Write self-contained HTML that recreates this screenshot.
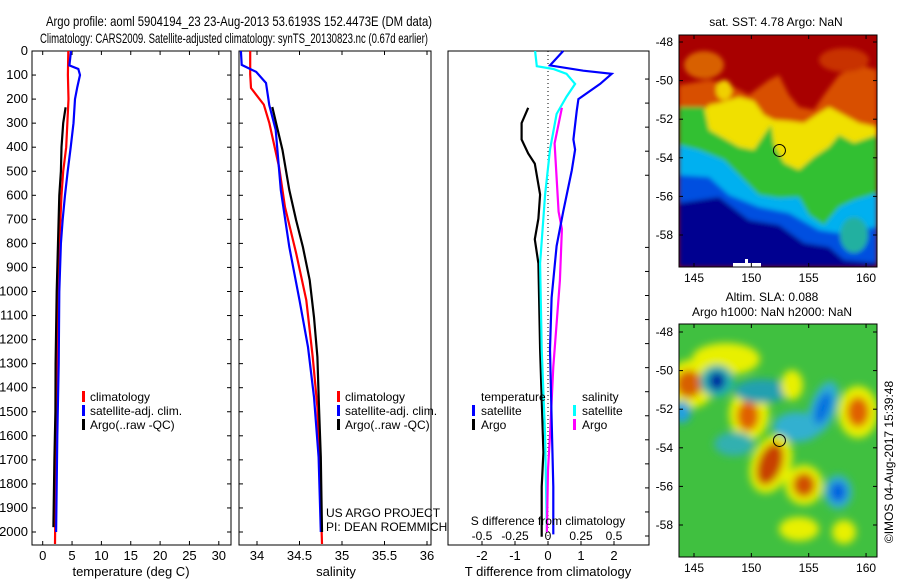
<!DOCTYPE html>
<html><head><meta charset="utf-8"><style>
body{margin:0;background:#fff}
svg{display:block;font-family:"Liberation Sans",sans-serif}
</style></head><body>
<svg id="fig" width="900" height="580" viewBox="0 0 900 580" xmlns="http://www.w3.org/2000/svg">
<defs>
<filter id="bl" x="-10%" y="-10%" width="120%" height="120%"><feGaussianBlur stdDeviation="2.5"/></filter>
<filter id="bl2" x="-20%" y="-20%" width="140%" height="140%"><feGaussianBlur stdDeviation="4"/></filter>
<clipPath id="c1"><rect x="679" y="35" width="198" height="232"/></clipPath>
<clipPath id="c2"><rect x="679" y="324" width="198" height="233"/></clipPath>
</defs>
<text x="46" y="26" font-size="14" textLength="386" lengthAdjust="spacingAndGlyphs">Argo profile: aoml 5904194_23 23-Aug-2013 53.6193S 152.4473E (DM data)</text>
<text x="40" y="43" font-size="14" textLength="388" lengthAdjust="spacingAndGlyphs">Climatology: CARS2009. Satellite-adjusted climatology: synTS_20130823.nc (0.67d earlier)</text>

<!-- top map -->
<g clip-path="url(#c1)">
<rect x="679" y="35" width="198" height="232" fill="#a80000"/>
<g transform="translate(679,35)" filter="url(#bl)">
<polygon fill="#d85000" points="0,50 30,45 50,50 70,60 90,45 100,40 110,60 120,72 135,75 145,60 160,40 180,30 198,35 198,232 0,232"/>
<ellipse cx="25" cy="30" rx="20" ry="14" fill="#d86000"/>
<ellipse cx="165" cy="25" rx="25" ry="12" fill="#c83000"/>
<polygon fill="#f0e000" points="0,78 20,80 30,70 40,68 60,62 75,66 85,80 95,85 110,86 125,88 140,78 150,72 165,80 180,88 198,92 198,232 0,232"/>
<ellipse cx="45" cy="55" rx="8" ry="10" fill="#f0d000"/>
<polygon fill="#30c030" points="0,72 25,72 30,95 60,112 75,115 85,100 92,90 95,110 105,128 120,135 135,122 150,112 160,100 175,108 198,100 198,232 0,232"/>
<polygon fill="#00b0f0" points="0,110 20,115 45,125 60,140 80,160 100,163 120,162 130,180 145,190 160,172 175,165 198,158 198,232 0,232"/>
<polygon fill="#0050e0" points="0,140 30,142 50,160 80,172 110,178 140,195 160,198 198,192 198,232 0,232"/>
<ellipse cx="175" cy="200" rx="14" ry="18" fill="#20b0a0"/>
<polygon fill="#000090" points="0,168 40,162 70,185 100,190 125,208 150,212 165,225 198,228 198,232 0,232"/>
</g>
<rect x="733" y="263" width="28" height="4" fill="#fff"/>
<rect x="745" y="259" width="3" height="5" fill="#fff"/>
</g>
<rect x="679" y="35" width="198" height="232" fill="none" stroke="#000"/>
<circle id="mk1" r="6" fill="none" stroke="#000"/>
<text x="776" y="26" font-size="12" text-anchor="middle">sat. SST: 4.78 Argo: NaN</text>

<!-- bottom map -->
<g clip-path="url(#c2)">
<rect x="679" y="324" width="198" height="233" fill="#40c040"/>
<g transform="translate(679,324)" filter="url(#bl2)">
<ellipse cx="47" cy="35" rx="34" ry="16" fill="#e8f000"/>
<ellipse cx="12" cy="60" rx="24" ry="24" fill="#e8f000"/>
<ellipse cx="10" cy="60" rx="13" ry="14" fill="#d86000"/>
<ellipse cx="38" cy="57" rx="17" ry="16" fill="#20b0b0"/>
<ellipse cx="38" cy="57" rx="8" ry="9" fill="#0020a0"/>
<ellipse cx="70" cy="90" rx="20" ry="26" fill="#e8f000"/>
<ellipse cx="69" cy="92" rx="11" ry="15" fill="#e06000"/>
<ellipse cx="83" cy="67" rx="28" ry="12" fill="#20a0b0"/>
<ellipse cx="118" cy="103" rx="24" ry="15" fill="#30b0d0"/>
<ellipse cx="113" cy="61" rx="11" ry="15" fill="#e8f000"/>
<ellipse cx="92" cy="140" rx="20" ry="30" fill="#e8f000" transform="rotate(20 92 140)"/>
<ellipse cx="91" cy="140" rx="12" ry="22" fill="#c84000" transform="rotate(20 91 140)"/>
<ellipse cx="125" cy="161" rx="19" ry="20" fill="#e8f000"/>
<ellipse cx="125" cy="161" rx="11" ry="12" fill="#d05000"/>
<ellipse cx="144" cy="84" rx="13" ry="28" fill="#30b0d0" transform="rotate(20 144 84)"/>
<ellipse cx="144" cy="84" rx="7" ry="17" fill="#0070e0" transform="rotate(20 144 84)"/>
<ellipse cx="159" cy="168" rx="14" ry="17" fill="#30b0d0"/>
<ellipse cx="159" cy="168" rx="8" ry="10" fill="#0060e0"/>
<ellipse cx="179" cy="88" rx="20" ry="26" fill="#e8f000"/>
<ellipse cx="179" cy="88" rx="11" ry="15" fill="#e06000"/>
<ellipse cx="3" cy="88" rx="9" ry="11" fill="#20a0e0"/>
<ellipse cx="120" cy="205" rx="20" ry="12" fill="#e8f000"/>
<ellipse cx="165" cy="208" rx="12" ry="12" fill="#e8f000"/>
<ellipse cx="55" cy="120" rx="20" ry="12" fill="#30b0b0"/>
</g>
</g>
<rect x="679" y="324" width="198" height="233" fill="none" stroke="#000"/>
<circle id="mk2" r="6" fill="none" stroke="#000"/>
<text x="772" y="301" font-size="12" text-anchor="middle">Altim. SLA: 0.088</text>
<text x="772" y="316" font-size="12" text-anchor="middle">Argo h1000: NaN h2000: NaN</text>
<text transform="translate(893,462) rotate(-90)" font-size="12" text-anchor="middle">©IMOS 04-Aug-2017 15:39:48</text>

<!-- panel frames -->
<rect x="32" y="51" width="199" height="494" fill="none" stroke="#000"/>
<rect x="239" y="51" width="192" height="494" fill="none" stroke="#000"/>
<rect x="448" y="51" width="201" height="494" fill="none" stroke="#000"/>
<g id="g1"></g><g id="g2"></g><g id="g3"></g><g id="gm"></g>

<text x="131" y="576" font-size="13" text-anchor="middle">temperature (deg C)</text>
<text x="336" y="576" font-size="13" text-anchor="middle">salinity</text>
<text x="548" y="576" font-size="13" text-anchor="middle">T difference from climatology</text>
<text x="548" y="525" font-size="12" text-anchor="middle">S difference from climatology</text>
<text x="326" y="517" font-size="12">US ARGO PROJECT</text>
<text x="326" y="531" font-size="12">PI: DEAN ROEMMICH</text>

<g font-size="12">
<rect x="82" y="391" width="3" height="11" fill="#f00"/><text x="90" y="401">climatology</text>
<rect x="82" y="405" width="3" height="11" fill="#00f"/><text x="90" y="415">satellite-adj. clim.</text>
<rect x="82" y="419" width="3" height="11" fill="#000"/><text x="90" y="429">Argo(..raw -QC)</text>
</g>
<g font-size="12">
<rect x="337" y="391" width="3" height="11" fill="#f00"/><text x="345" y="401">climatology</text>
<rect x="337" y="405" width="3" height="11" fill="#00f"/><text x="345" y="415">satellite-adj. clim.</text>
<rect x="337" y="419" width="3" height="11" fill="#000"/><text x="345" y="429">Argo(..raw -QC)</text>
</g>
<g font-size="12">
<text x="481" y="401">temperature</text>
<rect x="472" y="405" width="3" height="11" fill="#00f"/><text x="481" y="415">satellite</text>
<rect x="472" y="419" width="3" height="11" fill="#000"/><text x="481" y="429">Argo</text>
<text x="582" y="401">salinity</text>
<rect x="573" y="405" width="3" height="11" fill="#0ff"/><text x="582" y="415">satellite</text>
<rect x="573" y="419" width="3" height="11" fill="#f0f"/><text x="582" y="429">Argo</text>
</g>
</svg>
<script>
// ---- data ----
const depthTicks=[0,100,200,300,400,500,600,700,800,900,1000,1100,1200,1300,1400,1500,1600,1700,1800,1900,2000];
const tempTicks=[0,5,10,15,20,25,30];
const salTicks=[34,34.5,35,35.5,36];
const tdiffTicks=[-2,-1,0,1,2];
const sdiffTicks=[-0.5,-0.25,0,0.25,0.5];
const lonTicks=[145,150,155,160];
const latTicks=[-48,-50,-52,-54,-56,-58];
const argoLon=152.4473, argoLat=-53.6193;

const tClimDepth=[0,100,200,400,500,600,800,1000,1400,1800,2050];
const tClimVal=[4.36,4.3,4.4,4.0,3.5,3.2,2.83,2.49,2.4,2.2,2.1];
const tSatDepth=[0,60,75,100,150,200,300,400,500,600,700,800,1000,1300,1600,2000];
const tSatVal=[4.82,4.55,6.07,6.35,5.9,5.5,5.24,4.77,4.26,3.8,3.4,3.1,2.83,2.72,2.49,2.29];
const tArgoDepth=[234,300,400,500,600,800,1000,1300,1500,1700,1980];
const tArgoVal=[3.9,3.5,3.2,3.1,2.83,2.6,2.38,2.2,2.16,2.0,1.82];

const sClimDepth=[0,97,154,223,299,483,649,840,1036,1272,1481,1755,2050];
const sClimVal=[33.92,33.92,33.93,34.08,34.145,34.26,34.33,34.46,34.58,34.655,34.71,34.74,34.765];
const sSatDepth=[0,58,87,133,225,328,578,815,1036,1231,1439,1688,2000];
const sSatVal=[33.81,33.82,33.99,34.106,34.145,34.22,34.28,34.38,34.50,34.60,34.67,34.725,34.75];
const sArgoDepth=[233,412,578,703,815,953,1107,1272,1481,1688,2000];
const sArgoVal=[34.18,34.30,34.38,34.46,34.54,34.62,34.67,34.71,34.73,34.75,34.765];

const dTSatDepth=[0,60,82,95,137,200,250,368,410,496,668,811,1026,1240,1526,1812,2010];
const dTSatVal=[0.46,0.06,1.07,1.93,1.58,0.92,0.87,0.77,0.82,0.72,0.46,0.26,0.11,0.06,0.11,0.16,0.16];
const dTArgoDepth=[236,300,368,426,468,597,697,783,883,1240,1669,1812,2020];
const dTArgoVal=[-0.6,-0.8,-0.8,-0.6,-0.4,-0.24,-0.29,-0.4,-0.29,-0.24,-0.14,-0.19,-0.19];
const dSSatDepth=[0,63,75,95,137,190,262,410,597,883,1240,1598,2000];
const dSSatVal=[-0.098,-0.085,0.04,0.14,0.205,0.14,0.065,0.015,-0.022,-0.06,-0.048,-0.022,-0.008];
const dSArgoDepth=[236,384,668,740,954,1313,1598,1740,2000];
const dSArgoVal=[0.105,0.05,0.08,0.105,0.09,0.04,0.015,0,-0.008];

// ---- scales ----
const NS="http://www.w3.org/2000/svg";
const yD=d=>51+d*0.2405;
const xT=t=>42.7+t*5.87;
const xS=s=>257+(s-34)*85;
const xDT=t=>548+t*33;
const xDS=s=>548+s*132;
const lonX=l=>694+(l-145)*11.47;
const latY1=l=>42+(-l-48)*19.3;
const latY2=l=>332+(-l-48)*19.3;
const BOT=545;

function el(tag,attrs,parent,txt){const e=document.createElementNS(NS,tag);for(const k in attrs)e.setAttribute(k,attrs[k]);if(txt!==undefined)e.textContent=txt;parent.appendChild(e);return e;}
function line(parent,x1,y1,x2,y2){return el('line',{x1,y1,x2,y2,stroke:'#000','stroke-width':1},parent);}
function prof(parent,depths,vals,xf,color,name){
  const pts=depths.map((d,i)=>xf(vals[i]).toFixed(1)+','+yD(d).toFixed(1)).join(' ');
  const p=el('polyline',{points:pts,fill:'none',stroke:color,'stroke-width':2.2},parent);
  
  
}
const g1=document.getElementById('g1'),g2=document.getElementById('g2'),g3=document.getElementById('g3'),gm=document.getElementById('gm');

depthTicks.forEach(d=>{
  const y=yD(d);
  line(g1,32,y,36,y);line(g1,231,y,227,y);line(g2,239,y,243,y);
  const t=el('text',{x:28,y:y+4,'font-size':13,'text-anchor':'end'},g1,String(d));
  
  
});
depthTicks.forEach(d=>{ if(d>=100&&d!==600&&d!==700) {const y=yD(d)+4; line(g3,649,y,645,y);} });

tempTicks.forEach(v=>{const x=xT(v);line(g1,x,BOT,x,BOT-4);line(g1,x,51,x,55);
  const t=el('text',{x:x,y:560,'font-size':13,'text-anchor':'middle'},g1,String(v));
  
  });
salTicks.forEach(v=>{const x=xS(v);line(g2,x,BOT,x,BOT-4);line(g2,x,51,x,55);
  const t=el('text',{x:x,y:560,'font-size':13,'text-anchor':'middle'},g2,String(v));
  
  });
tdiffTicks.forEach(v=>{const x=xDT(v);line(g3,x,BOT,x,BOT-4);
  const t=el('text',{x:x,y:560,'font-size':13,'text-anchor':'middle'},g3,String(v));
  
  });
sdiffTicks.forEach(v=>{const x=xDS(v);
  const t=el('text',{x:x,y:540,'font-size':12,'text-anchor':'middle'},g3,String(v));
  
  });
const zl=el('line',{x1:xDT(0),y1:51,x2:xDT(0),y2:BOT,stroke:'#000','stroke-dasharray':'1,3'},g3);



prof(g1,tClimDepth,tClimVal,xT,'#f00','temperature-climatology-line');
prof(g1,tSatDepth,tSatVal,xT,'#00f','temperature-satellite-line');
prof(g1,tArgoDepth,tArgoVal,xT,'#000','temperature-argo-line');
prof(g2,sClimDepth,sClimVal,xS,'#f00','salinity-climatology-line');
prof(g2,sSatDepth,sSatVal,xS,'#00f','salinity-satellite-line');
prof(g2,sArgoDepth,sArgoVal,xS,'#000','salinity-argo-line');
prof(g3,dTArgoDepth,dTArgoVal,xDT,'#000','t-diff-argo-line');
prof(g3,dSSatDepth,dSSatVal,xDS,'#0ff','s-diff-satellite-line');
prof(g3,dSArgoDepth,dSArgoVal,xDS,'#f0f','s-diff-argo-line');
prof(g3,dTSatDepth,dTSatVal,xDT,'#00f','t-diff-satellite-line');

[[latY1,35,267],[latY2,324,557]].forEach(([ly,top,bot])=>{
  lonTicks.forEach(v=>{const x=lonX(v);line(gm,x,bot,x,bot-4);line(gm,x,top,x,top+4);
    const t=el('text',{x:x,y:bot+15,'font-size':12,'text-anchor':'middle'},gm,String(v));
    
    });
  latTicks.forEach(v=>{const y=ly(v);line(gm,679,y,683,y);line(gm,877,y,873,y);
    const t=el('text',{x:673,y:y+4,'font-size':12,'text-anchor':'end'},gm,String(v));
    
    });
});
const m1=document.getElementById('mk1');m1.setAttribute('cx',lonX(argoLon));m1.setAttribute('cy',latY1(argoLat));
const m2=document.getElementById('mk2');m2.setAttribute('cx',lonX(argoLon));m2.setAttribute('cy',latY2(argoLat));
</script>
</body></html>
